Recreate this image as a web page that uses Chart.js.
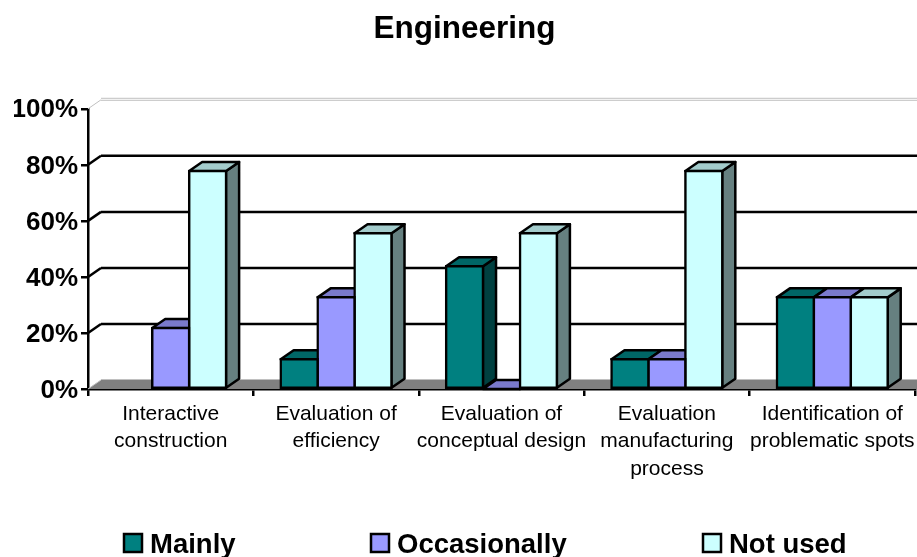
<!DOCTYPE html>
<html>
<head>
<meta charset="utf-8">
<title>Engineering</title>
<script src="https://cdn.jsdelivr.net/npm/chart.js@4"></script>
<style>
  html, body { margin: 0; padding: 0; background: #fff; }
  #wrap { width: 917px; height: 557px; }
</style>
</head>
<body>
<div id="wrap"><canvas id="chart" width="917" height="557"></canvas></div>
<script>
// data (percent), null = no bar at all
const categories = [
  ['Interactive', 'construction'],
  ['Evaluation of', 'efficiency'],
  ['Evaluation of', 'conceptual design'],
  ['Evaluation', 'manufacturing', 'process'],
  ['Identification of', 'problematic spots']
];
const mainly = [null, 10.6, 43.8, 10.6, 32.7];
const occasionally = [21.8, 32.7, 0, 10.6, 32.7];
const notUsed = [77.8, 55.6, 55.6, 77.8, 32.7];
const yTicks = [0, 20, 40, 60, 80, 100];

const frontColors = ['#008080', '#9999ff', '#ccffff'];
const topColors = ['#006666', '#7a7acc', '#a3cccc'];
const sideColors = ['#004040', '#4d4d80', '#668080'];

// fake 3D depth of the old spreadsheet look
const depthX = 13;
const depthY = 9;
const lineW = 2.5;
const fontName = '"Liberation Sans", Arial, sans-serif';

function line(ctx, x1, y1, x2, y2, color, width) {
  ctx.beginPath();
  ctx.moveTo(x1, y1);
  ctx.lineTo(x2, y2);
  ctx.strokeStyle = color;
  ctx.lineWidth = width;
  ctx.stroke();
}

function poly(ctx, pts, fill) {
  ctx.beginPath();
  ctx.moveTo(pts[0][0], pts[0][1]);
  for (let i = 1; i < pts.length; i++) ctx.lineTo(pts[i][0], pts[i][1]);
  ctx.closePath();
  ctx.fillStyle = fill;
  ctx.fill();
  ctx.strokeStyle = '#000';
  ctx.lineWidth = lineW;
  ctx.lineJoin = 'round';
  ctx.stroke();
}

const depthPlugin = {
  id: 'depth',
  // back wall, floor, then the top and side of every bar, the library draws the fronts over them
  beforeDatasetsDraw(chart) {
    const ctx = chart.ctx;
    const y = chart.scales.y;
    const left = chart.chartArea.left;
    const right = chart.width;
    const base = y.getPixelForValue(0);
    ctx.save();

    ctx.fillStyle = '#808080';
    ctx.beginPath();
    ctx.moveTo(left, base);
    ctx.lineTo(left + depthX, base - depthY);
    ctx.lineTo(right, base - depthY);
    ctx.lineTo(right, base);
    ctx.closePath();
    ctx.fill();
    line(ctx, left + depthX, base - depthY - 0.5, right, base - depthY - 0.5, '#c0c0c0', 1);

    yTicks.forEach(function (t) {
      const py = y.getPixelForValue(t);
      const edge = t === 0 || t === 100;
      line(ctx, left, py, left + depthX, py - depthY, edge ? '#c0c0c0' : '#000', edge ? 1 : lineW);
      if (t === 100) {
        line(ctx, left + depthX, py - depthY + 0.5, right, py - depthY + 0.5, '#c0c0c0', 1);
        line(ctx, left + depthX, py - depthY - 1.5, right, py - depthY - 1.5, '#c0c0c0', 1);
      } else if (t > 0) {
        line(ctx, left + depthX, py - depthY, right, py - depthY, '#000', lineW);
      }
    });

    categories.forEach(function (c, i) {
      chart.data.datasets.forEach(function (ds, d) {
        if (ds.data[i] === null) return;
        const bar = chart.getDatasetMeta(d).data[i];
        const x0 = bar.x - bar.width / 2;
        const x1 = bar.x + bar.width / 2;
        poly(ctx, [[x1, bar.base], [x1 + depthX, bar.base - depthY], [x1 + depthX, bar.y - depthY], [x1, bar.y]], sideColors[d]);
        poly(ctx, [[x0, bar.y], [x0 + depthX, bar.y - depthY], [x1 + depthX, bar.y - depthY], [x1, bar.y]], topColors[d]);
      });
    });
    ctx.restore();
  },
  // legend has uneven gaps in the original so it is drawn here
  afterDraw(chart) {
    const ctx = chart.ctx;
    const starts = [124, 371, 703];
    ctx.save();
    chart.data.datasets.forEach(function (ds, d) {
      ctx.fillStyle = frontColors[d];
      ctx.fillRect(starts[d], 534, 18, 18);
      ctx.strokeStyle = '#000';
      ctx.lineWidth = lineW;
      ctx.strokeRect(starts[d], 534, 18, 18);
      ctx.fillStyle = '#000';
      ctx.font = 'bold 27.5px ' + fontName;
      ctx.textBaseline = 'alphabetic';
      ctx.textAlign = 'left';
      ctx.fillText(ds.label, starts[d] + 26, 553);
    });
    ctx.restore();
  }
};

new Chart(document.getElementById('chart').getContext('2d'), {
  type: 'bar',
  plugins: [depthPlugin],
  data: {
    labels: categories,
    datasets: [
      { label: 'Mainly', data: mainly, backgroundColor: frontColors[0] },
      { label: 'Occasionally', data: occasionally, backgroundColor: frontColors[1] },
      { label: 'Not used', data: notUsed, backgroundColor: frontColors[2] }
    ]
  },
  options: {
    responsive: false,
    animation: false,
    // left padding moves the title centre to where the original has it
    layout: { padding: { left: 14, right: 2 } },
    datasets: {
      bar: {
        categoryPercentage: 0.67,
        barPercentage: 1,
        borderColor: '#000',
        borderWidth: lineW,
        borderSkipped: false,
        inflateAmount: lineW / 2
      }
    },
    plugins: {
      legend: { display: false },
      tooltip: { enabled: false },
      title: {
        display: true,
        text: 'Engineering',
        color: '#000',
        font: { family: fontName, size: 31.5, weight: 'bold', lineHeight: 1.2 },
        padding: { top: 10, bottom: 61 }
      }
    },
    scales: {
      x: {
        afterFit(s) { s.height = 168; s.paddingRight = 0; s.paddingLeft = 0; },
        border: { color: '#000', width: lineW },
        grid: { drawOnChartArea: false, color: '#000', lineWidth: lineW, tickLength: 7 },
        ticks: {
          color: '#000',
          padding: 5,
          maxRotation: 0,
          autoSkip: false,
          font: { family: fontName, size: 21, lineHeight: 1.29 }
        }
      },
      y: {
        min: 0,
        max: 100,
        afterFit(s) { s.width = 74; },
        afterBuildTicks(s) { s.ticks = yTicks.map(function (v) { return { value: v }; }); },
        border: { color: '#000', width: lineW },
        grid: { drawOnChartArea: false, color: '#000', lineWidth: lineW, tickLength: 7 },
        ticks: {
          color: '#000',
          padding: 3,
          labelOffset: 1.5,
          callback: function (v) { return v + '%'; },
          font: { family: fontName, size: 26, weight: 'bold' }
        }
      }
    }
  }
});
</script>
</body>
</html>
